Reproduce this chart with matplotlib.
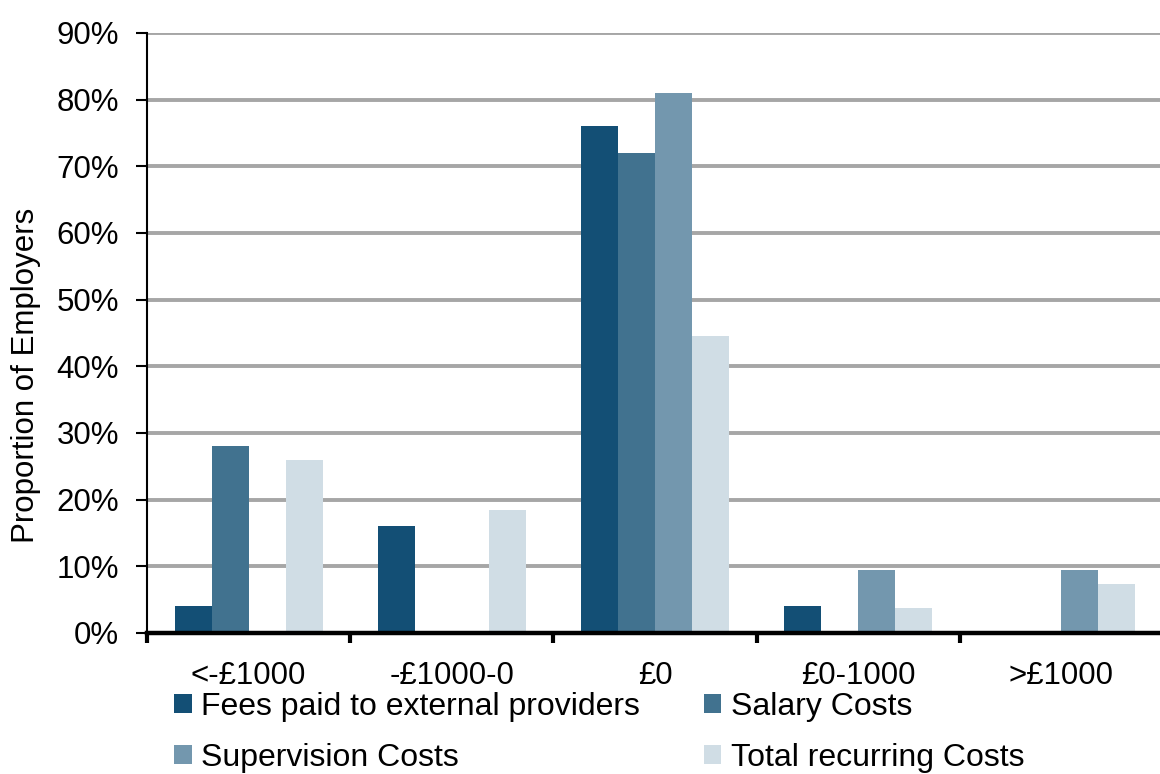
import numpy as np
import matplotlib.pyplot as plt
from matplotlib.ticker import FuncFormatter, FixedLocator

# Data
categories = ['<-£1000', '-£1000-0', '£0', '£0-1000', '>£1000']
fees = [4, 16, 76, 4, 0]
salary = [28, 0, 72, 0, 0]
supervision = [0, 0, 81, 9.5, 9.5]
total = [26, 18.5, 44.5, 3.7, 7.4]

series = [
    ('Fees paid to external providers', fees, '#134F75'),
    ('Salary Costs', salary, '#41728F'),
    ('Supervision Costs', supervision, '#7397AE'),
    ('Total recurring Costs', total, '#D0DDE5'),
]

plt.rcParams['font.family'] = ['Liberation Sans', 'DejaVu Sans']

fig = plt.figure(figsize=(11.6, 7.74), dpi=100, facecolor='white')
ax = fig.add_axes([147 / 1160, 1 - 633 / 774, 1016 / 1160, 600 / 774])

x = np.arange(len(categories))
width = 0.182
bars = []
for i, (name, vals, color) in enumerate(series):
    b = ax.bar(x + (i - 1.5) * width, vals, width, color=color, label=name,
               zorder=3)
    bars.append(b)

ax.set_xlim(-0.5, 4.5)
ax.set_ylim(0, 90)
ax.set_yticks(np.arange(0, 91, 10))
ax.yaxis.set_major_formatter(FuncFormatter(lambda v, p: f'{int(v)}%'))
ax.set_ylabel('Proportion of Employers', fontsize=22.5)
ax.yaxis.set_label_coords(-0.104, 0.43)

ax.set_xticks(x)
ax.set_xticklabels(categories)
ax.xaxis.set_minor_locator(FixedLocator(np.arange(-0.5, 5, 1)))
ax.tick_params(axis='x', which='major', length=0, pad=20, labelsize=22.5)
ax.tick_params(axis='x', which='minor', length=7, width=3, direction='out')
ax.tick_params(axis='y', length=8, width=1.5, labelsize=22.5, pad=12)

# Grid styling
ax.grid(True, axis='y', color='#A6A6A6', linewidth=2.8, zorder=0)
ax.set_axisbelow(True)

for side in ['top', 'right']:
    ax.spines[side].set_visible(False)
ax.spines['left'].set_linewidth(1.5)
ax.spines['bottom'].set_linewidth(3.2)
ax.spines['bottom'].set_zorder(5)

# legend filled row by row: Fees, Salary / Supervision, Total
order = [0, 2, 1, 3]
fig.legend([bars[k] for k in order], [series[k][0] for k in order],
           loc='upper left', bbox_to_anchor=(174 / 1160, 1 - 692 / 774),
           ncol=2, frameon=False, fontsize=23, handlelength=0.55,
           handleheight=0.55, handletextpad=0.3, columnspacing=2.0,
           labelspacing=0.66, borderpad=0, borderaxespad=0)

fig.savefig('out.png', dpi=100)
